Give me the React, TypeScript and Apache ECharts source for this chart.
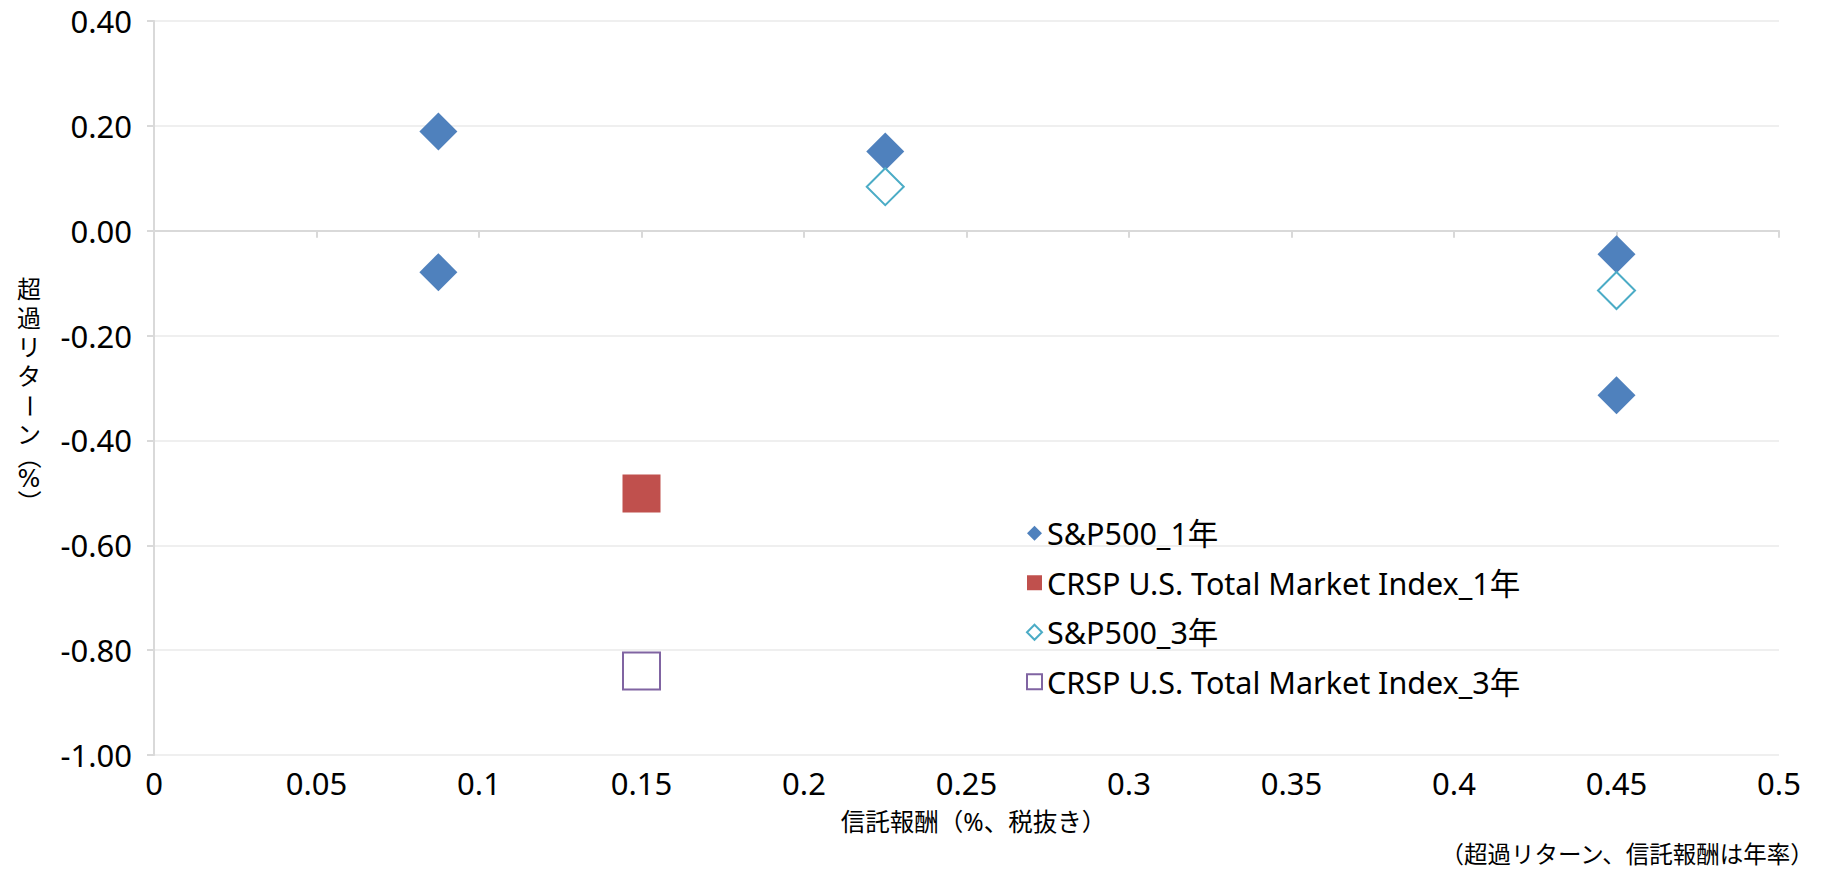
import React, { useEffect, useRef } from "react";
import * as echarts from "echarts";

// ---- data ----
const seriesNames = [
  "S&P500_1年",
  "CRSP U.S. Total Market Index_1年",
  "S&P500_3年",
  "CRSP U.S. Total Market Index_3年",
];
const sp500_1y: [number, number][] = [
  [0.0875, 0.189],
  [0.0875, -0.079],
  [0.225, 0.151],
  [0.45, -0.045],
  [0.45, -0.314],
];
const crsp_1y: [number, number][] = [[0.15, -0.501]];
const sp500_3y: [number, number][] = [
  [0.225, 0.084],
  [0.45, -0.114],
];
const crsp_3y: [number, number][] = [[0.15, -0.84]];

const xMin = 0;
const xMax = 0.5;
const xStep = 0.05;
const yMin = -1.0;
const yMax = 0.4;
const yStep = 0.2;

const xAxisTitle = "信託報酬（%、税抜き）";
// vertical y-axis title glyphs: [text, rotated?]
const yAxisTitleParts: [string, boolean][] = [
  ["超", false],
  ["過", false],
  ["リ", false],
  ["タ", false],
  ["ー", true],
  ["ン", false],
  ["（", true],
  ["%", false],
  ["）", true],
];
const noteText = "（超過リターン、信託報酬は年率）";

const FONT = "'Noto Sans', 'Noto Sans CJK JP', sans-serif";
const VFONT = "'DejaVu Sans', 'Noto Sans CJK JP', sans-serif";

export default function App() {
  const ref = useRef<HTMLDivElement>(null);
  useEffect(() => {
    if (!ref.current) return;
    const chart = echarts.init(ref.current, null, { renderer: "svg" });

    const yCenters = [290, 319, 348, 377, 406, 435, 457, 479, 502];
    const yTitle = yAxisTitleParts.map(([txt, rot], i) => ({
      type: "group",
      x: 29,
      y: yCenters[i],
      rotation: rot ? -Math.PI / 2 : 0,
      children: [
        {
          type: "text",
          x: 0,
          y: 0,
          style: {
            text: txt,
            fill: "#000",
            font: `24px ${VFONT}`,
            lineHeight: rot ? 20 : 28,
            align: "center",
            verticalAlign: "middle",
          },
        },
      ],
    }));

    chart.setOption({
      animation: false,
      backgroundColor: "#fff",
      textStyle: { fontFamily: FONT, color: "#000" },
      grid: { left: 154, right: 50, top: 21, bottom: 114, containLabel: false },
      legend: {
        orient: "vertical",
        left: 1021,
        top: 513,
        itemWidth: 15,
        itemHeight: 15,
        itemGap: 19,
        data: seriesNames,
        textStyle: { fontSize: 30.5, lineHeight: 30, color: "#000", fontFamily: FONT },
      },
      xAxis: [
        {
          type: "value",
          min: xMin,
          max: xMax,
          interval: xStep,
          position: "bottom",
          axisLine: { show: false, onZero: false },
          axisTick: { show: false },
          splitLine: { show: false },
          axisLabel: { fontSize: 31, margin: 12, color: "#000", fontFamily: FONT },
          name: xAxisTitle,
          nameLocation: "middle",
          nameGap: 54,
          nameTextStyle: {
            fontSize: 24.5,
            color: "#000",
            fontFamily: FONT,
            padding: [0, 0, 0, 14],
          },
        },
        {
          type: "value",
          min: xMin,
          max: xMax,
          interval: xStep,
          position: "bottom",
          axisLine: { show: true, onZero: true, lineStyle: { color: "#d9d9d9", width: 2 } },
          axisTick: { show: true, length: 7, lineStyle: { color: "#d9d9d9", width: 2 } },
          axisLabel: { show: false },
          splitLine: { show: false },
        },
      ],
      yAxis: {
        type: "value",
        min: yMin,
        max: yMax,
        interval: yStep,
        axisLine: { show: true, lineStyle: { color: "#d9d9d9", width: 2 } },
        axisTick: { show: true, length: 7, lineStyle: { color: "#d9d9d9", width: 2 } },
        axisLabel: {
          fontSize: 31,
          margin: 22,
          color: "#000",
          fontFamily: FONT,
          formatter: (v: number) => v.toFixed(2),
        },
        splitLine: { show: true, lineStyle: { color: "#efefef", width: 2 } },
      },
      series: [
        {
          name: seriesNames[0],
          type: "scatter",
          symbol: "diamond",
          symbolSize: 38,
          itemStyle: { color: "#4F81BD", opacity: 1 },
          data: sp500_1y,
        },
        {
          name: seriesNames[1],
          type: "scatter",
          symbol: "rect",
          symbolSize: 38,
          itemStyle: { color: "#C0504D", opacity: 1 },
          data: crsp_1y,
        },
        {
          name: seriesNames[2],
          type: "scatter",
          symbol: "diamond",
          symbolSize: 37,
          itemStyle: { color: "#ffffff", borderColor: "#4BACC6", borderWidth: 2, opacity: 1 },
          data: sp500_3y,
        },
        {
          name: seriesNames[3],
          type: "scatter",
          symbol: "rect",
          symbolSize: 37,
          itemStyle: { color: "#ffffff", borderColor: "#8064A2", borderWidth: 2, opacity: 1 },
          data: crsp_3y,
        },
      ],
      graphic: [
        ...yTitle,
        {
          type: "text",
          right: 14,
          top: 842,
          style: {
            text: noteText,
            fill: "#000",
            font: `23.5px ${FONT}`,
          },
        },
      ],
    });
    return () => chart.dispose();
  }, []);
  return (
    <div
      ref={ref}
      style={{ position: "fixed", left: 0, top: 0, width: 1829, height: 869 }}
    />
  );
}
